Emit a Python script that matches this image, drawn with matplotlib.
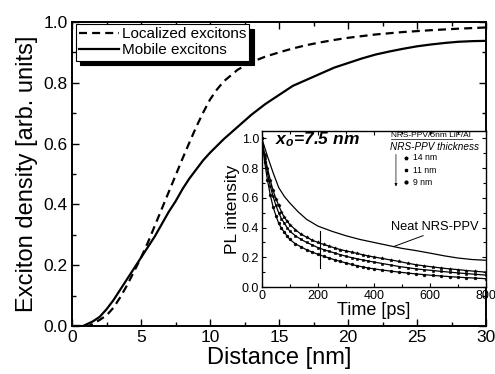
import matplotlib
matplotlib.use('Agg')
import matplotlib.pyplot as plt
from matplotlib.ticker import MultipleLocator, FormatStrFormatter

plt.rcParams['font.family'] = ['Liberation Sans', 'DejaVu Sans']
plt.rcParams['mathtext.fontset'] = 'custom'
plt.rcParams['mathtext.it'] = 'Liberation Sans:italic:bold'
plt.rcParams['mathtext.rm'] = 'Liberation Sans:italic:bold'

# ---------------- main panel data ----------------
dist_mobile = [0, 0.5, 0.8, 1.5, 2, 2.5, 3, 3.5, 4, 4.5, 5, 5.5, 6, 6.5, 7, 7.5, 8, 8.5, 9,
               9.5, 10, 11, 12, 13, 14, 15, 16, 17, 18, 19, 20, 21, 22, 23, 24, 25, 26,
               27, 28, 29, 30]
mobile = [0, 0, 0, 0.015, 0.03, 0.055, 0.085, 0.12, 0.155, 0.19, 0.225, 0.26, 0.295, 0.335,
          0.375, 0.41, 0.45, 0.485, 0.515, 0.545, 0.57, 0.615, 0.655, 0.695, 0.73, 0.76,
          0.79, 0.81, 0.83, 0.85, 0.865, 0.88, 0.893, 0.903, 0.912, 0.92, 0.926, 0.931,
          0.935, 0.937, 0.938]

dist_loc = [0, 1.2, 1.5, 2, 2.5, 3, 3.5, 4, 4.5, 5, 5.5, 6, 6.5, 7, 7.5, 8, 8.5, 9, 9.5,
            10, 10.5, 11, 12, 13, 14, 15, 16, 17, 18, 19, 20, 22, 24, 26, 28, 30]
localized = [0, 0, 0.007, 0.02, 0.035, 0.06, 0.095, 0.135, 0.18, 0.225, 0.275, 0.33, 0.385,
             0.44, 0.495, 0.55, 0.603, 0.655, 0.702, 0.745, 0.778, 0.805, 0.843, 0.868,
             0.886, 0.9, 0.913, 0.924, 0.933, 0.941, 0.948, 0.959, 0.967, 0.973, 0.978,
             0.982]

# ---------------- inset data ----------------
time_ps = [0, 10, 20, 30, 40, 50, 60, 70, 80, 90, 100, 120, 140, 160, 180, 200, 220, 240,
           260, 280, 300, 320, 340, 360, 380, 400, 430, 460, 490, 520, 550, 580, 610, 640,
           670, 700, 730, 760, 800]
pl_14nm = [1.0, 0.89, 0.80, 0.72, 0.65, 0.595, 0.55, 0.505, 0.47, 0.443, 0.42, 0.385, 0.355,
           0.335, 0.315, 0.30, 0.287, 0.275, 0.263, 0.252, 0.243, 0.235, 0.226, 0.217,
           0.209, 0.202, 0.192, 0.182, 0.172, 0.160, 0.150, 0.142, 0.135, 0.128, 0.122,
           0.117, 0.111, 0.106, 0.10]
pl_11nm = [1.0, 0.87, 0.77, 0.68, 0.61, 0.55, 0.50, 0.46, 0.43, 0.40, 0.375, 0.345, 0.32,
           0.30, 0.283, 0.265, 0.252, 0.24, 0.229, 0.218, 0.207, 0.198, 0.19, 0.182, 0.175,
           0.168, 0.158, 0.148, 0.138, 0.13, 0.122, 0.116, 0.111, 0.105, 0.1, 0.095,
           0.09, 0.086, 0.08]
pl_9nm = [1.0, 0.84, 0.72, 0.62, 0.54, 0.48, 0.43, 0.395, 0.37, 0.343, 0.32, 0.29, 0.27,
          0.25, 0.235, 0.22, 0.207, 0.195, 0.183, 0.172, 0.162, 0.152, 0.143, 0.135, 0.128,
          0.122, 0.114, 0.107, 0.1, 0.094, 0.088, 0.083, 0.078, 0.074, 0.070, 0.066,
          0.063, 0.060, 0.056]
time_neat = [0, 20, 40, 60, 80, 100, 130, 160, 200, 250, 300, 350, 400, 450, 500, 550, 600,
             650, 700, 750, 800]
pl_neat = [1.0, 0.88, 0.77, 0.67, 0.61, 0.565, 0.505, 0.455, 0.41, 0.375, 0.345, 0.32, 0.30,
           0.28, 0.26, 0.245, 0.228, 0.21, 0.195, 0.185, 0.18]

series_labels = ['14 nm', '11 nm', '9 nm']
series_markers = ['*', 's', 'o']

# annotation anchors (data units of the inset)
bar_time = 208
bar_range = (0.13, 0.38)
neat_point = (470, 0.272)
neat_text = (618, 0.405)

fig = plt.figure(figsize=(4.95, 3.74), dpi=100)
ax = fig.add_axes([0.1455, 0.1283, 0.8365, 0.8129])

l_loc, = ax.plot(dist_loc, localized, color='black', lw=1.6, ls='--', dashes=(3.6, 2.3))
l_mob, = ax.plot(dist_mobile, mobile, color='black', lw=1.6)

ax.set_xlim(0, 30)
ax.set_ylim(0, 1.0)
ax.xaxis.set_major_locator(MultipleLocator(5))
ax.xaxis.set_minor_locator(MultipleLocator(2.5))
ax.yaxis.set_major_locator(MultipleLocator(0.2))
ax.yaxis.set_minor_locator(MultipleLocator(0.1))
ax.yaxis.set_major_formatter(FormatStrFormatter('%.1f'))
ax.tick_params(which='both', direction='in', top=True, right=True, labelsize=12.5, width=1)
ax.tick_params(which='major', length=5, pad=3)
ax.tick_params(which='minor', length=3)
for s in ax.spines.values():
    s.set_linewidth(1.4)
ax.set_xlabel('Distance [nm]', fontsize=17, labelpad=1)
ax.set_ylabel('Exciton density [arb. units]', fontsize=17, labelpad=4)

leg = ax.legend([l_loc, l_mob], ['Localized excitons', 'Mobile excitons'],
                loc='upper left', bbox_to_anchor=(0.01, 0.993), borderaxespad=0,
                fontsize=11, handlelength=2.6, handletextpad=0.2, labelspacing=0.15,
                borderpad=0.2, fancybox=False, edgecolor='black', framealpha=1,
                shadow={'color': 'black', 'alpha': 1, 'ox': 3, 'oy': -3.5})
leg.get_frame().set_linewidth(0.8)

# ---------------- inset ----------------
ai = fig.add_axes([0.529, 0.2326, 0.453, 0.4171])
ai.plot(time_neat, pl_neat, color='black', lw=0.9)
for yv, mk in zip([pl_14nm, pl_11nm, pl_9nm], series_markers):
    ai.plot(time_ps, yv, color='black', lw=0.9, marker=mk, ms=2.6 if mk == '*' else 2.0,
            markeredgewidth=0.4)
ai.set_xlim(0, 800)
ai.set_ylim(0, 1.05)
ai.xaxis.set_major_locator(MultipleLocator(200))
ai.xaxis.set_minor_locator(MultipleLocator(100))
ai.yaxis.set_major_locator(MultipleLocator(0.2))
ai.yaxis.set_minor_locator(MultipleLocator(0.1))
ai.yaxis.set_major_formatter(FormatStrFormatter('%.1f'))
ai.tick_params(which='both', direction='in', top=True, right=True, labelsize=9, width=0.8)
ai.tick_params(which='major', length=3, pad=2)
ai.tick_params(which='minor', length=2)
for s in ai.spines.values():
    s.set_linewidth(1.0)
ai.set_xlabel('Time [ps]', fontsize=13, labelpad=0)
ai.set_ylabel('PL intensity', fontsize=12.5, labelpad=1)

ai.plot([bar_time, bar_time], bar_range, color='black', lw=0.8)
ai.annotate('Neat NRS-PPV', xy=neat_point, xytext=neat_text, fontsize=9.3,
            ha='center', va='center',
            arrowprops=dict(arrowstyle='-', lw=0.7, color='black', shrinkA=0, shrinkB=0,
                            relpos=(0.45, 0.0)))

ai.text(0.058, 0.945, r'$x_o$=7.5 nm', transform=ai.transAxes, fontsize=12.5,
        fontweight='bold', fontstyle='italic', ha='left', va='center')

# inset legend
ai.text(0.755, 0.962, 'NRS-PPV/5nm LiF/Al', transform=ai.transAxes, fontsize=6,
        ha='center', va='baseline')
ai.plot([0.575, 0.935], [0.95, 0.95], transform=ai.transAxes, color='black', lw=0.5,
        clip_on=False)
ai.text(0.77, 0.9, 'NRS-PPV thickness', transform=ai.transAxes, fontsize=7.2,
        fontstyle='italic', ha='center', va='center')
leg_y = [0.827, 0.75, 0.673]
for yy, lab, mk in zip(leg_y, series_labels, series_markers):
    ai.plot([0.643], [yy], transform=ai.transAxes, marker=mk, color='black',
            ms=2.6 if mk == '*' else 2.0, ls='none')
    ai.text(0.674, yy, lab, transform=ai.transAxes, fontsize=6.2, ha='left', va='center')
ai.annotate('', xy=(0.598, 0.645), xytext=(0.598, 0.85), xycoords='axes fraction',
            textcoords='axes fraction',
            arrowprops=dict(arrowstyle='-|>', lw=0.5, color='black', mutation_scale=4,
                            shrinkA=0, shrinkB=0))

fig.savefig('out.png', dpi=100)
